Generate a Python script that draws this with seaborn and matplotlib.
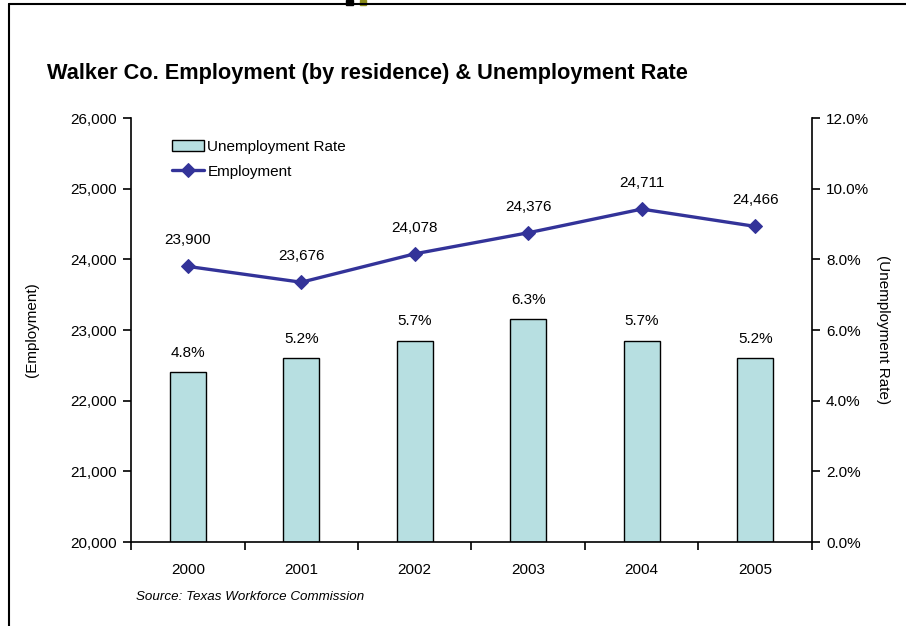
import matplotlib
matplotlib.use("Agg")
import matplotlib.pyplot as plt
from matplotlib.ticker import FuncFormatter, FixedLocator
import numpy as np
import pandas as pd
import seaborn as sns

years = ["2000", "2001", "2002", "2003", "2004", "2005"]
employment = [23900, 23676, 24078, 24376, 24711, 24466]
unemployment_rate = [4.8, 5.2, 5.7, 6.3, 5.7, 5.2]

sns.set_theme(style="white")
plt.rcParams["font.family"] = ["Liberation Sans", "DejaVu Sans"]
for k in ("text.color", "axes.labelcolor", "xtick.color", "ytick.color"):
    plt.rcParams[k] = "black"

df = pd.DataFrame({"Year": years, "Employment": employment,
                   "Rate": unemployment_rate, "pos": np.arange(len(years))})

BAR = "#B7DFE1"
LINE = "#333399"
FS = 11

fig = plt.figure(figsize=(9.06, 6.26), dpi=100)
ax = fig.add_axes([131 / 906, 1 - 542 / 626, (812 - 131) / 906, (542 - 118) / 626])

# bars: unemployment rate on the right-hand scale
sns.barplot(data=df, x="Year", y="Rate", ax=ax, color=BAR, width=0.32,
            edgecolor="black", linewidth=1.0, saturation=1, label="Unemployment Rate")
ax.set_xlabel("")
for i, r in enumerate(unemployment_rate):
    ax.text(i, r + 0.35, f"{r:.1f}%", ha="center", va="bottom", fontsize=FS)

# line: employment on the left-hand scale
ax2 = ax.twinx()
sns.lineplot(data=df, x="pos", y="Employment", ax=ax2, color=LINE, linewidth=2.4,
             marker="D", markersize=7, markeredgecolor=LINE, label="Employment")
ax2.set_xlabel("")
for i, e in enumerate(employment):
    ax2.text(i, e + 270, f"{e:,}", ha="center", va="bottom", fontsize=FS)

ax.set_ylim(0, 12)
ax.yaxis.tick_right()
ax.yaxis.set_label_position("right")
ax.yaxis.set_major_locator(FixedLocator(np.arange(0, 12.1, 2)))
ax.yaxis.set_major_formatter(FuncFormatter(lambda v, p: f"{v:.1f}%"))
ax.set_ylabel("(Unemployment Rate)", rotation=270, labelpad=15, fontsize=FS)

ax2.set_ylim(20000, 26000)
ax2.yaxis.tick_left()
ax2.yaxis.set_label_position("left")
ax2.yaxis.set_major_locator(FixedLocator(np.arange(20000, 26001, 1000)))
ax2.yaxis.set_major_formatter(FuncFormatter(lambda v, p: f"{int(v):,}"))
ax2.set_ylabel("(Employment)", fontsize=FS, labelpad=23)

ax.set_xlim(-0.5, 5.5)
ax2.set_xlim(-0.5, 5.5)

for a in (ax, ax2):
    for s in a.spines.values():
        s.set_visible(False)
    a.tick_params(axis="y", direction="out", length=6, width=1.2, colors="black",
                  labelsize=FS, pad=4)
ax.spines["bottom"].set_visible(True)
ax.spines["right"].set_visible(True)
ax2.spines["left"].set_visible(True)
for s in (ax.spines["bottom"], ax.spines["right"], ax2.spines["left"]):
    s.set_color("black")
    s.set_linewidth(1.2)

# category labels centred, tick marks on category boundaries
ax.set_xticks(np.arange(6))
ax.set_xticklabels(years)
ax.set_xticks(np.arange(-0.5, 6, 1), minor=True)
ax.tick_params(axis="x", which="major", length=0, labelsize=FS, pad=15)
ax.tick_params(axis="x", which="minor", direction="out", length=6, width=1.2,
               color="black", bottom=True)
ax2.tick_params(axis="x", bottom=False, labelbottom=False)

# combined legend
h1, l1 = ax.get_legend_handles_labels()
h2, l2 = ax2.get_legend_handles_labels()
if ax2.get_legend():
    ax2.get_legend().remove()
if ax.get_legend():
    ax.get_legend().remove()
ax2.legend(h1 + h2, l1 + l2, loc="upper left", bbox_to_anchor=(0.045, 0.973),
           frameon=False, fontsize=FS, handlelength=2.1, handletextpad=0.2,
           borderaxespad=0.3, labelspacing=0.7)

fig.text(47 / 906, 1 - 73 / 626, "Walker Co. Employment (by residence) & Unemployment Rate",
         fontsize=15.7, fontweight="bold", va="center", ha="left")
fig.text(136 / 906, 1 - 597 / 626, "Source: Texas Workforce Commission",
         fontsize=9.6, style="italic", va="center", ha="left")

# outer frame of the page
fig.add_artist(plt.Line2D([9 / 906, 9 / 906], [0, 1 - 3.5 / 626], color="black",
                          linewidth=1.5, transform=fig.transFigure))
fig.add_artist(plt.Line2D([9 / 906, 1], [1 - 3.5 / 626, 1 - 3.5 / 626], color="black",
                          linewidth=1.5, transform=fig.transFigure))
fig.add_artist(plt.Rectangle((346 / 906, 1 - 5 / 626), 7 / 906, 5 / 626,
                             color="black", transform=fig.transFigure))
fig.add_artist(plt.Rectangle((360 / 906, 1 - 5 / 626), 6 / 906, 5 / 626,
                             color="#8B8B1A", transform=fig.transFigure))

fig.savefig("out.png", dpi=100)
